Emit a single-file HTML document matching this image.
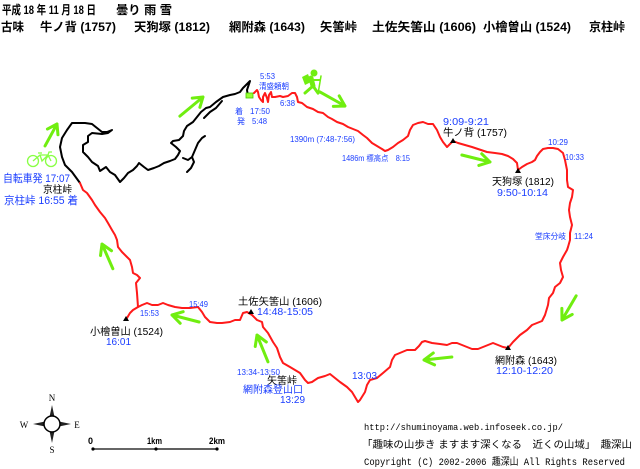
<!DOCTYPE html>
<html><head><meta charset="utf-8"><style>
html,body{margin:0;padding:0;background:#fff;}
svg{display:block;}
text{font-family:"Liberation Sans","Noto Sans CJK JP",sans-serif;}
.b{fill:#1a3dff;}
.k{fill:#000;}
.m{font-family:"Liberation Mono","Noto Sans CJK JP",monospace;}
</style></head><body>
<svg width="640" height="469" viewBox="0 0 640 469" xmlns="http://www.w3.org/2000/svg">
<rect width="640" height="469" fill="#fff"/>

<!-- Title -->
<g font-size="12" font-weight="bold" class="k">
<text x="2" y="14" textLength="94" lengthAdjust="spacingAndGlyphs">平成 18 年 11 月 18 日</text>
<text x="116" y="14" textLength="56" lengthAdjust="spacingAndGlyphs">曇り 雨 雪</text>
<text x="1" y="31" textLength="23" lengthAdjust="spacingAndGlyphs">古味</text>
<text x="40" y="31" textLength="76" lengthAdjust="spacingAndGlyphs">牛ノ背 (1757)</text>
<text x="134" y="31" textLength="76" lengthAdjust="spacingAndGlyphs">天狗塚 (1812)</text>
<text x="229" y="31" textLength="76" lengthAdjust="spacingAndGlyphs">網附森 (1643)</text>
<text x="320" y="31" textLength="37" lengthAdjust="spacingAndGlyphs">矢筈峠</text>
<text x="372" y="31" textLength="104" lengthAdjust="spacingAndGlyphs">土佐矢筈山 (1606)</text>
<text x="483" y="31" textLength="88" lengthAdjust="spacingAndGlyphs">小檜曽山 (1524)</text>
<text x="589" y="31" textLength="36" lengthAdjust="spacingAndGlyphs">京柱峠</text>
</g>

<!-- Black road -->
<g fill="none" stroke="#000" stroke-width="2" stroke-linejoin="round" stroke-linecap="round">
<polyline points="80,183 72,172 65,165 62,157 60,147 62,138 67,130 72,123 78,123 85,123 92,124 97,128 102,132 107,132 112,130 108,133 102,134 92,133 88,136 88,142 83,145 83,152 88,157 92,162 98,166 100,171 106,167 110,172 115,175 120,182 124,178 128,173 133,170 137,166 139,163 144,167 148,170 154,168 159,166 164,163 170,161 175,159 178,155 180,151 176,147 171,143 173,141 179,140 183,136 184,131 187,126 193,122 197,117 201,112 206,108 210,107 216,102 223,97 230,95 235,94 240,92 243,88 247,84 250,81 247,90 248,96"/>
<polyline points="183,158 188,160 192,157 195,150 198,143 202,138 205,136"/>
<polyline points="192,157 194,162 191,168 187,172"/>
<polyline points="204,118 210,112 216,108 222,101"/>
</g>

<!-- parking icon -->
<rect x="246" y="93" width="7" height="5" fill="#99ff33" stroke="#44cc00" stroke-width="0.8"/>

<!-- Red route -->
<g fill="none" stroke="#ff1a1a" stroke-width="2" stroke-linejoin="round" stroke-linecap="round">
<polyline points="254,93 257,90 258,92 259,97 261,100 263,102 263,97 265,93 267,98 268,102 269,95 271,92 272,97 275,97 280,96 283,97 288,96 292,93 295,93 297,97 298,102 302,103 307,107 313,109 318,112 323,113 328,117 332,119 337,122 343,124 348,127 353,129 358,131 363,135 367,138 372,143 377,146 382,149 385,151 388,150 393,147 398,143 403,140 408,136 410,130 413,125 418,123 423,122 428,124 433,124 437,130 440,137 443,142 447,147 449,145 453,141 458,143 465,145 472,147 478,149 487,152 495,153 502,154 508,156 513,159 517,163 518,170 522,167 527,164 532,162 535,160 537,156 540,152 543,149 548,148 553,148 558,149 563,153 565,160 567,170 567,180 568,187 573,190 572,197 570,203 569,210 570,217 572,225 570,233 570,240 568,247 567,250 563,257 560,263 561,270 563,277 560,283 555,287 553,293 549,298 548,305 545,315 542,321 537,323 532,325 527,330 520,335 513,342 508,348 503,347 498,345 493,343 488,345 483,347 478,349 472,349 467,347 462,345 457,343 452,343 447,345 440,344 432,343 425,341 422,342 419,346 415,350 407,350 395,355 392,360 390,367 383,373 377,378 370,380 367,385 365,392 360,400 358,402 355,397 352,392 347,387 340,382 335,378 330,374 325,376 318,378 312,382 308,383 305,380 300,373 290,367 283,363 280,357 277,348 273,342 268,333 263,327 262,322 257,320 252,315 247,312 243,313 240,320 235,320 230,322 222,323 217,323 210,322 205,317 202,312 198,307 190,308 182,308 175,307 168,305 163,303 158,305 152,305 147,303 142,305 138,307 137,293 136,283 140,278 137,275 133,273 132,267 130,260 127,257 122,252 118,247 117,240 115,235 112,230 108,223 105,218 100,212 95,205 92,200 87,193 83,190 80,183"/>
<polyline points="138,307 133,310 130,313 127,318"/>
</g>

<!-- peak triangles -->
<g fill="#000">
<polygon points="453,138 450,143 456,143"/>
<polygon points="518,168 515,173 521,173"/>
<polygon points="508,345 505,350 511,350"/>
<polygon points="251,309 248,314 254,314"/>
<polygon points="126,316 123,321 129,321"/>
</g>

<!-- green arrows -->
<g fill="none" stroke="#70ee10" stroke-width="3" stroke-linecap="round" stroke-linejoin="round">
<g transform="translate(57,124) rotate(-61.4)"><path d="M-25,0 L0,0 M-9,-6 L0,0 L-9,6"/></g>
<g transform="translate(203,97) rotate(-39.6)"><path d="M-30,0 L0,0 M-9,-6 L0,0 L-9,6"/></g>
<g transform="translate(345,106) rotate(29.2)"><path d="M-29,0 L0,0 M-10,-6 L0,0 L-10,6"/></g>
<g transform="translate(490,162) rotate(14)"><path d="M-29,0 L0,0 M-10,-6 L0,0 L-10,6"/></g>
<g transform="translate(562,320) rotate(120.3)"><path d="M-28,0 L0,0 M-10,-6 L0,0 L-10,6"/></g>
<g transform="translate(424,360) rotate(173.9)"><path d="M-28,0 L0,0 M-10,-6 L0,0 L-10,6"/></g>
<g transform="translate(257,335) rotate(-112.2)"><path d="M-29,0 L0,0 M-10,-6 L0,0 L-10,6"/></g>
<g transform="translate(172,315) rotate(-165.5)"><path d="M-28,0 L0,0 M-10,-6 L0,0 L-10,6"/></g>
<g transform="translate(102,244) rotate(-113.7)"><path d="M-27,0 L0,0 M-10,-6 L0,0 L-10,6"/></g>
</g>

<!-- hiker -->
<g fill="#70ee10" stroke="#70ee10" stroke-linecap="round">
<circle cx="314" cy="73" r="3.5" stroke="none"/>
<polygon points="302,77 308,74 311,82 305,85" stroke="none"/>
<line x1="311" y1="78" x2="313" y2="86" stroke-width="5"/>
<line x1="313" y1="86" x2="305" y2="93" stroke-width="3"/>
<line x1="313" y1="86" x2="318" y2="93" stroke-width="3"/>
<line x1="313" y1="80" x2="320" y2="80" stroke-width="2"/>
<line x1="321" y1="76" x2="318" y2="94" stroke-width="1.5"/>
</g>

<!-- bicycle -->
<g fill="none" stroke="#88ff44" stroke-width="1.3">
<circle cx="33" cy="161" r="5.5"/>
<circle cx="51" cy="161" r="5.5"/>
<polyline points="33,161 40,155 48,155 51,161"/>
<polyline points="40,155 42,161 48,155"/>
<line x1="38" y1="153" x2="42" y2="153"/>
<polyline points="48,155 49,152 52,152"/>
</g>

<!-- map labels -->
<g font-size="8" class="b">
<text x="260" y="79" textLength="15" lengthAdjust="spacingAndGlyphs">5:53</text>
<text x="259" y="89" textLength="30" lengthAdjust="spacingAndGlyphs">清盛頼朝</text>
<text x="280" y="106" textLength="15" lengthAdjust="spacingAndGlyphs">6:38</text>
<text x="235" y="114">着</text>
<text x="250" y="114" textLength="20" lengthAdjust="spacingAndGlyphs">17:50</text>
<text x="237" y="124">発</text>
<text x="252" y="124" textLength="15" lengthAdjust="spacingAndGlyphs">5:48</text>
<text x="290" y="142" textLength="65" lengthAdjust="spacingAndGlyphs">1390m (7:48-7:56)</text>
<text x="342" y="161" textLength="68" lengthAdjust="spacingAndGlyphs">1486m 標高点　8:15</text>
<text x="548" y="145" textLength="20" lengthAdjust="spacingAndGlyphs">10:29</text>
<text x="565" y="160" textLength="19" lengthAdjust="spacingAndGlyphs">10:33</text>
<text x="535" y="239" textLength="31" lengthAdjust="spacingAndGlyphs">堂床分岐</text>
<text x="574" y="239" textLength="19" lengthAdjust="spacingAndGlyphs">11:24</text>
<text x="189" y="307" textLength="19" lengthAdjust="spacingAndGlyphs">15:49</text>
<text x="140" y="316" textLength="19" lengthAdjust="spacingAndGlyphs">15:53</text>
<text x="237" y="375" textLength="43" lengthAdjust="spacingAndGlyphs">13:34-13:50</text>
</g>
<g font-size="10">
<text class="b" x="443" y="125" textLength="46" lengthAdjust="spacingAndGlyphs">9:09-9:21</text>
<text class="k" x="443" y="136" textLength="64" lengthAdjust="spacingAndGlyphs">牛ノ背 (1757)</text>
<text class="k" x="492" y="185" textLength="62" lengthAdjust="spacingAndGlyphs">天狗塚 (1812)</text>
<text class="b" x="497" y="196" textLength="51" lengthAdjust="spacingAndGlyphs">9:50-10:14</text>
<text class="k" x="495" y="364" textLength="62" lengthAdjust="spacingAndGlyphs">網附森 (1643)</text>
<text class="b" x="496" y="374" textLength="57" lengthAdjust="spacingAndGlyphs">12:10-12:20</text>
<text class="b" x="352" y="379" textLength="25" lengthAdjust="spacingAndGlyphs">13:03</text>
<text class="k" x="238" y="305" textLength="84" lengthAdjust="spacingAndGlyphs">土佐矢筈山 (1606)</text>
<text class="b" x="257" y="315" textLength="56" lengthAdjust="spacingAndGlyphs">14:48-15:05</text>
<text class="k" x="90" y="335" textLength="73" lengthAdjust="spacingAndGlyphs">小檜曽山 (1524)</text>
<text class="b" x="106" y="345" textLength="25" lengthAdjust="spacingAndGlyphs">16:01</text>
<text class="k" x="267" y="384" textLength="30" lengthAdjust="spacingAndGlyphs">矢筈峠</text>
<text class="b" x="243" y="393" textLength="60" lengthAdjust="spacingAndGlyphs">網附森登山口</text>
<text class="b" x="280" y="403" textLength="25" lengthAdjust="spacingAndGlyphs">13:29</text>
<text class="k" x="43" y="193" textLength="29" lengthAdjust="spacingAndGlyphs">京柱峠</text>
</g>
<g font-size="11" class="b">
<text x="3" y="182" textLength="67" lengthAdjust="spacingAndGlyphs">自転車発 17:07</text>
<text x="4" y="204" textLength="74" lengthAdjust="spacingAndGlyphs">京柱峠 16:55 着</text>
</g>

<!-- compass -->
<g>
<polygon points="52,405 49.5,417 54.5,417" fill="#222"/>
<polygon points="52,443 49.5,431 54.5,431" fill="#222"/>
<polygon points="33,424 45,421.5 45,426.5" fill="#222"/>
<polygon points="71,424 59,421.5 59,426.5" fill="#222"/>
<circle cx="52" cy="424" r="8" fill="#fff" stroke="#000" stroke-width="1.5"/>
<g font-family="Liberation Serif, serif" font-size="9" fill="#000" text-anchor="middle">
<text x="52" y="401" style="font-family:'Liberation Serif',serif">N</text>
<text x="52" y="453" style="font-family:'Liberation Serif',serif">S</text>
<text x="24" y="428" style="font-family:'Liberation Serif',serif">W</text>
<text x="77" y="428" style="font-family:'Liberation Serif',serif">E</text>
</g>
</g>

<!-- scale bar -->
<g>
<line x1="93" y1="449" x2="156" y2="449" stroke="#333" stroke-width="1.6"/>
<line x1="156" y1="449" x2="217" y2="449" stroke="#000" stroke-width="1.3"/>
<circle cx="93" cy="449" r="1.6" fill="#000"/>
<circle cx="156" cy="449" r="1.6" fill="#000"/>
<circle cx="217" cy="449" r="1.6" fill="#000"/>
<g font-size="9" font-weight="bold" fill="#000">
<text x="88" y="444">0</text>
<text x="147" y="444" textLength="15" lengthAdjust="spacingAndGlyphs">1km</text>
<text x="209" y="444" textLength="16" lengthAdjust="spacingAndGlyphs">2km</text>
</g>
</g>

<!-- footer -->
<g fill="#000">
<text class="m" x="364" y="430" font-size="9" textLength="199" lengthAdjust="spacingAndGlyphs">http://shuminoyama.web.infoseek.co.jp/</text>
<text x="362" y="448" font-size="10" textLength="270" lengthAdjust="spacingAndGlyphs">「趣味の山歩き ますます深くなる　近くの山域」　趣深山</text>
<text class="m" x="364" y="465" font-size="10" textLength="261" lengthAdjust="spacingAndGlyphs">Copyright (C) 2002-2006 趣深山 All Rights Reserved</text>
</g>
</svg>
</body></html>
